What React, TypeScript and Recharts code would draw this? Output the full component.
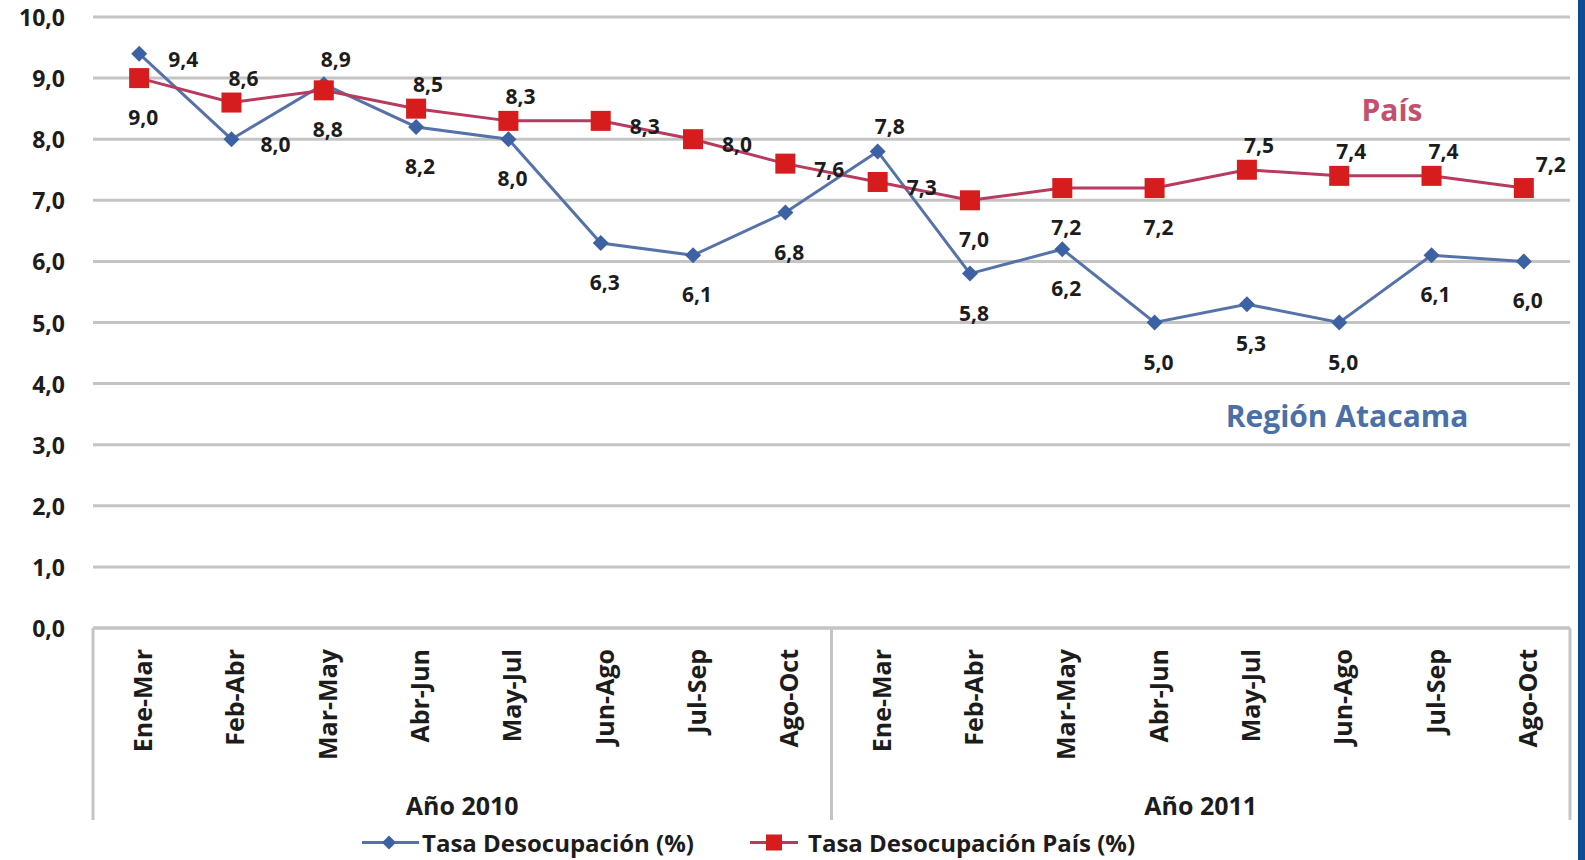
import { LineChart, Line, XAxis, YAxis, CartesianGrid, LabelList } from "recharts";

// Trimestres móviles, dos años
const periods = [
  "Ene-Mar", "Feb-Abr", "Mar-May", "Abr-Jun", "May-Jul", "Jun-Ago", "Jul-Sep", "Ago-Oct",
  "Ene-Mar", "Feb-Abr", "Mar-May", "Abr-Jun", "May-Jul", "Jun-Ago", "Jul-Sep", "Ago-Oct",
];
const years = ["Año 2010", "Año 2011"];
const periodsPerYear = 8;

const regionRate = [9.4, 8.0, 8.9, 8.2, 8.0, 6.3, 6.1, 6.8, 7.8, 5.8, 6.2, 5.0, 5.3, 5.0, 6.1, 6.0];
const countryRate = [9.0, 8.6, 8.8, 8.5, 8.3, 8.3, 8.0, 7.6, 7.3, 7.0, 7.2, 7.2, 7.5, 7.4, 7.4, 7.2];

const yTicks = [0, 1, 2, 3, 4, 5, 6, 7, 8, 9, 10];

const regionLabel = "Tasa Desocupación (%)";
const countryLabel = "Tasa Desocupación País (%)";

// label placement per point (as Excel put them)
const regionPlacement = ["right", "right", "top", "bottom", "bottom", "bottom", "bottom", "bottom",
  "top", "bottom", "bottom", "bottom", "bottom", "bottom", "bottom", "bottom"];
const countryPlacement = ["bottom", "top", "bottom", "top", "top", "right", "right", "right",
  "right", "bottom", "bottom", "bottom", "top", "top", "top", "topright"];

const data = periods.map((_, i) => ({
  idx: i,
  region: regionRate[i],
  country: countryRate[i],
}));

const W = 1585;
const H = 860;
const CHART_W = 1578;
const Y_AXIS_W = 93;
const X_AXIS_H = 232;
const MARGIN = { top: 17, right: 8, left: 0, bottom: 0 };
const PLOT_BOTTOM = H - X_AXIS_H;
const BAND = (CHART_W - MARGIN.right - Y_AXIS_W) / periods.length;

const FONT = "'Open Sans', 'DejaVu Sans', sans-serif";
const TEXT = "#1c1c1c";
const GRID = "#c4c4c4";
const BLUE_LINE = "#5672aa";
const BLUE_MARK = "#3d62a3";
const RED_LINE = "#b83a5e";
const RED_MARK = "#d61c1c";

const fmt = (v: number) => v.toFixed(1).replace(".", ",");

const offsets: Record<string, [number, number]> = {
  right: [44, 5],
  top: [12, -25],
  bottom: [4, 39],
  topright: [27, -24],
};

function PeriodTick(props: any) {
  const { x, payload } = props;
  const i = payload.value as number;
  const items = [];
  items.push(
    <text
      key="t"
      x={x + 3}
      y={PLOT_BOTTOM + 21}
      transform={`rotate(-90 ${x + 3} ${PLOT_BOTTOM + 21})`}
      textAnchor="end"
      dominantBaseline="central"
      fontSize={25}
      fontWeight={700}
      fill={TEXT}
      fontFamily={FONT}
    >
      {periods[i]}
    </text>
  );
  if (i % periodsPerYear === 0) {
    items.push(
      <line key="s" x1={x - BAND / 2} x2={x - BAND / 2} y1={PLOT_BOTTOM} y2={PLOT_BOTTOM + 192} stroke={GRID} strokeWidth={3} />
    );
  }
  if (i === periods.length - 1) {
    items.push(
      <line key="e" x1={x + BAND / 2} x2={x + BAND / 2} y1={PLOT_BOTTOM} y2={PLOT_BOTTOM + 192} stroke={GRID} strokeWidth={3} />
    );
  }
  if (i % periodsPerYear === periodsPerYear / 2 - 1) {
    items.push(
      <text
        key="y"
        x={x + BAND / 2}
        y={PLOT_BOTTOM + 177}
        textAnchor="middle"
        dominantBaseline="central"
        fontSize={25}
        fontWeight={700}
        fill={TEXT}
        fontFamily={FONT}
      >
        {years[Math.floor(i / periodsPerYear)]}
      </text>
    );
  }
  return <g>{items}</g>;
}

function ValueTick(props: any) {
  const { y, payload } = props;
  return (
    <text x={65} y={y} textAnchor="end" dominantBaseline="central" fontSize={23} fontWeight={700} fill={TEXT} fontFamily={FONT}>
      {fmt(payload.value)}
    </text>
  );
}

function Diamond(props: any) {
  const { cx, cy, index } = props;
  if (typeof cx !== "number" || typeof cy !== "number") return <g key={`d${index}`} />;
  const r = 8;
  return (
    <path key={`d${index}`} d={`M${cx},${cy - r}L${cx + r},${cy}L${cx},${cy + r}L${cx - r},${cy}Z`} fill={BLUE_MARK} />
  );
}

function Square(props: any) {
  const { cx, cy, index } = props;
  if (typeof cx !== "number" || typeof cy !== "number") return <g key={`s${index}`} />;
  return <rect key={`s${index}`} x={cx - 10} y={cy - 10} width={20} height={20} fill={RED_MARK} />;
}

function makeLabel(placement: string[]) {
  return (props: any) => {
    const { x, y, value, index } = props;
    const [dx, dy] = offsets[placement[index]] || [0, -25];
    return (
      <text
        x={x + dx}
        y={y + dy}
        textAnchor="middle"
        dominantBaseline="central"
        fontSize={21}
        fontWeight={700}
        fill={TEXT}
        fontFamily={FONT}
      >
        {fmt(value)}
      </text>
    );
  };
}

export default function App() {
  return (
    <div style={{ position: "absolute", left: 0, top: 0, width: W, height: H, background: "#ffffff", overflow: "hidden", fontFamily: FONT }}>
      <LineChart width={CHART_W} height={H} data={data} margin={MARGIN}>
        <CartesianGrid horizontal vertical={false} stroke={GRID} strokeWidth={3} />
        <XAxis
          dataKey="idx"
          type="category"
          height={X_AXIS_H}
          padding={{ left: BAND / 2, right: BAND / 2 }}
          axisLine={{ stroke: GRID, strokeWidth: 3 }}
          tickLine={false}
          interval={0}
          tick={(p: any) => <PeriodTick {...p} />}
        />
        <YAxis
          width={Y_AXIS_W}
          domain={[0, 10]}
          ticks={yTicks}
          axisLine={false}
          tickLine={false}
          tick={(p: any) => <ValueTick {...p} />}
        />
        <Line
          dataKey="region"
          stroke={BLUE_LINE}
          strokeWidth={3}
          dot={(p: any) => <Diamond key={`d${p.index}`} {...p} />}
          activeDot={false}
          isAnimationActive={false}
        >
          <LabelList dataKey="region" content={makeLabel(regionPlacement)} />
        </Line>
        <Line
          dataKey="country"
          stroke={RED_LINE}
          strokeWidth={3}
          dot={(p: any) => <Square key={`s${p.index}`} {...p} />}
          activeDot={false}
          isAnimationActive={false}
        >
          <LabelList dataKey="country" content={makeLabel(countryPlacement)} />
        </Line>
      </LineChart>

      <div style={{ position: "absolute", left: 1392, top: 109, transform: "translate(-50%, -50%)", color: "#c2516f", fontSize: 30, fontWeight: 700, whiteSpace: "nowrap" }}>
        País
      </div>
      <div style={{ position: "absolute", left: 1347, top: 415, transform: "translate(-50%, -50%)", color: "#4a70a8", fontSize: 30, fontWeight: 700, whiteSpace: "nowrap" }}>
        Región Atacama
      </div>

      <div style={{ position: "absolute", left: 362, top: 842, transform: "translateY(-50%)", display: "flex", alignItems: "center", fontSize: 24, fontWeight: 700, color: TEXT, whiteSpace: "nowrap" }}>
        <svg width={57} height={20} style={{ marginRight: 3 }}>
          <line x1={0} x2={57} y1={10} y2={10} stroke={BLUE_LINE} strokeWidth={3} />
          <path d="M27,3L34,10L27,17L20,10Z" fill={BLUE_MARK} />
        </svg>
        <span>{regionLabel}</span>
        <svg width={48} height={20} style={{ marginLeft: 56, marginRight: 10 }}>
          <line x1={0} x2={48} y1={10} y2={10} stroke={RED_LINE} strokeWidth={3} />
          <rect x={16} y={2} width={16} height={16} fill={RED_MARK} />
        </svg>
        <span>{countryLabel}</span>
      </div>

      <div style={{ position: "absolute", left: 1578, top: 0, width: 7, height: H, background: "#0b4c97" }} />
    </div>
  );
}
